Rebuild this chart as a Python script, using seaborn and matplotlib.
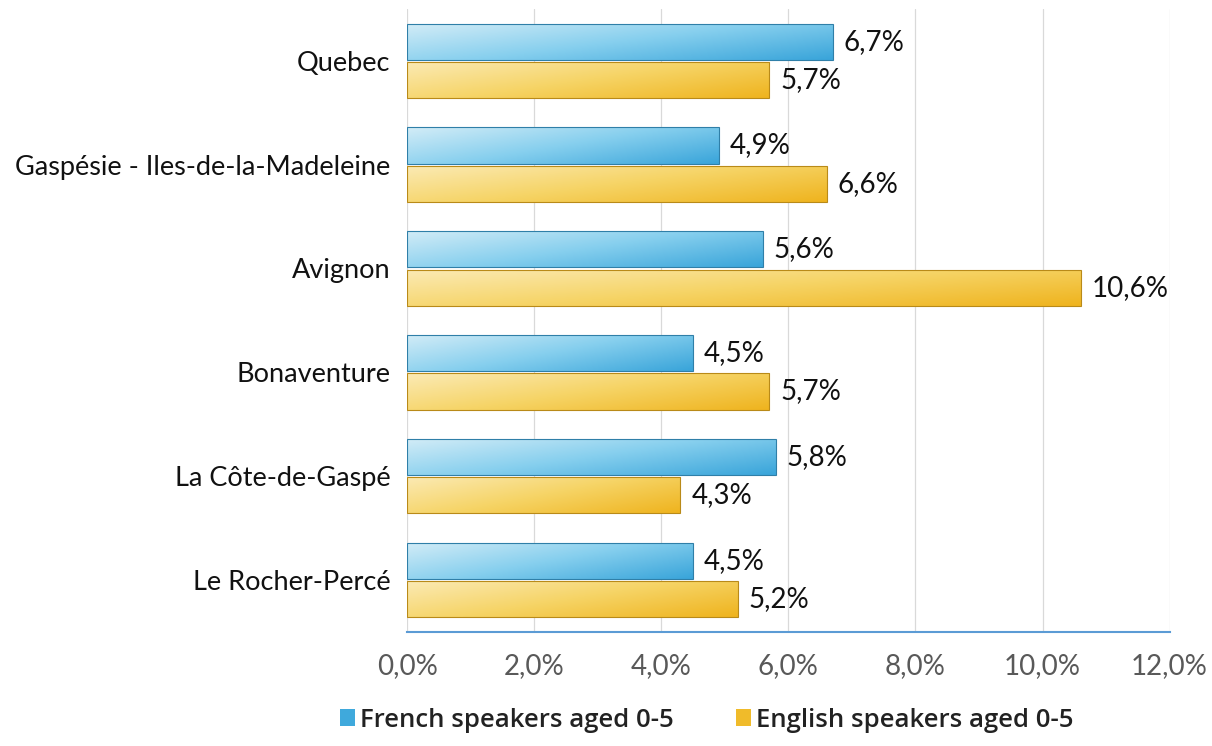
import numpy as np
import pandas as pd
import seaborn as sns
import matplotlib.pyplot as plt
from matplotlib.colors import LinearSegmentedColormap
from matplotlib.patches import Patch

regions = ["Quebec", "Gaspésie - Iles-de-la-Madeleine", "Avignon",
           "Bonaventure", "La Côte-de-Gaspé", "Le Rocher-Percé"]
french = [6.7, 4.9, 5.6, 4.5, 5.8, 4.5]
english = [5.7, 6.6, 10.6, 5.7, 4.3, 5.2]
series = ["French speakers aged 0-5", "English speakers aged 0-5"]
xticks = [0, 2, 4, 6, 8, 10, 12]

df = pd.DataFrame({
    "region": regions * 2,
    "value": french + english,
    "series": [series[0]] * len(regions) + [series[1]] * len(regions),
})

sns.set_style("white")
plt.rcParams["font.family"] = ["Lato", "DejaVu Sans"]

fig = plt.figure(figsize=(12.12, 7.46), dpi=100)
ax = fig.add_axes([0.336, 0.153, 0.629, 0.835])

base = {series[0]: "#3fa9dc", series[1]: "#f0bb2a"}
sns.barplot(data=df, y="region", x="value", hue="series", order=regions,
            hue_order=series, palette=base, width=0.74, gap=0.06,
            edgecolor="none", ax=ax, legend=False, orient="h")

cmaps = {
    series[0]: LinearSegmentedColormap.from_list("b", ["#d2ecf7", "#86cfee", "#3aa5da"]),
    series[1]: LinearSegmentedColormap.from_list("y", ["#fbeab4", "#f6d466", "#efb41f"]),
}
edges = {series[0]: "#2f7fa8", series[1]: "#b98a18"}

ax.set_xlim(0, 12)
ylim = ax.get_ylim()
for cont, s in zip(ax.containers, series):
    for p, v in zip(cont.patches, cont.datavalues):
        x0, y0 = p.get_x(), p.get_y()
        w, h = p.get_width(), p.get_height()
        gx = np.linspace(0, 1, 200)[None, :]
        gy = np.linspace(0, 1, 20)[:, None]
        grad = 0.6 * gx + 0.4 * gy
        im = ax.imshow(grad, cmap=cmaps[s], vmin=0, vmax=1, aspect="auto",
                       extent=[x0, x0 + w, y0 + h, y0], zorder=2,
                       interpolation="bilinear")
        im.set_clip_path(p)
        p.set_edgecolor(edges[s])
        p.set_linewidth(0.8)
        p.set_facecolor("none")
        p.set_zorder(3)
        ax.text(x0 + w + 0.17, y0 + h / 2, f"{v:.1f}%".replace(".", ","),
                va="center", ha="left", fontsize=20, color="#111111")
ax.set_ylim(ylim)
ax.set_xlim(0, 12)

ax.set_xticks(xticks)
ax.set_xticklabels([f"{t:.1f}%".replace(".", ",") for t in xticks],
                   fontsize=20, color="#595959")
ax.tick_params(axis="x", pad=15, length=0)
ax.tick_params(axis="y", labelsize=19.5, labelcolor="#111111", length=0, pad=12)
ax.set_xlabel("")
ax.set_ylabel("")
ax.grid(axis="x", color="#d9d9d9", linewidth=0.9)
ax.set_axisbelow(True)
for side in ["top", "right", "left"]:
    ax.spines[side].set_visible(False)
ax.spines["bottom"].set_color("#5b9bd5")
ax.spines["bottom"].set_linewidth(1.5)

handles = [Patch(facecolor=base[s], edgecolor="none") for s in series]
fig.legend(handles, series, loc="lower center", bbox_to_anchor=(0.583, -0.013),
           ncol=2, frameon=False, handlelength=0.6, handleheight=0.6,
           handletextpad=0.2, columnspacing=2.4,
           prop={"family": ["Open Sans", "DejaVu Sans"], "size": 18.5, "weight": "semibold"},
           labelcolor="#222222")

fig.savefig("out.png", dpi=100)
